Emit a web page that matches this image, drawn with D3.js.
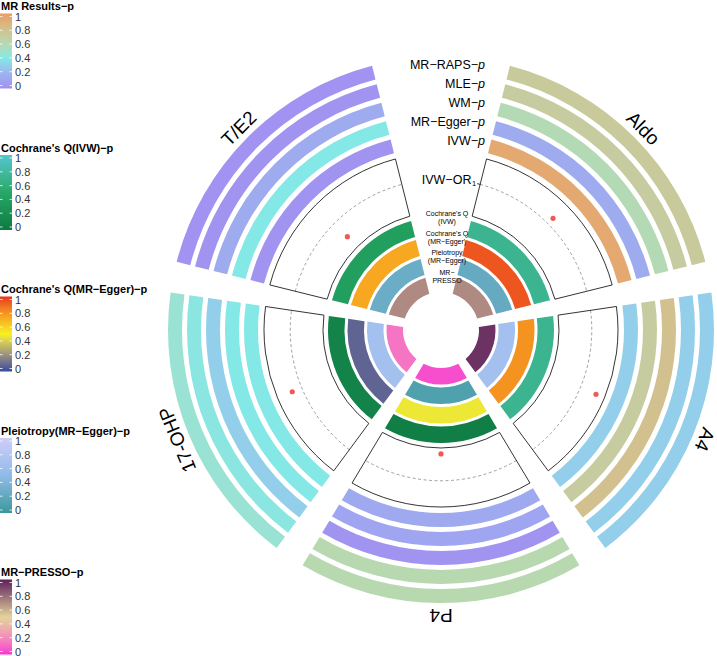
<!DOCTYPE html>
<head>
<meta charset="utf-8">
<style>
body { margin: 0; background: #fff; }
text { font-family: "Liberation Sans", Arial, Helvetica, sans-serif; }
</style>
<title>MR circos</title>
</head>
<body>
<script src="https://cdn.jsdelivr.net/npm/d3@7"></script>
<script>

var width = 717, height = 656;
var cx = 441, cy = 330;
var rad = Math.PI / 180;

// sectors, clockwise from the top gap
var sectors = ["Aldo", "A4", "P4", "17-OHP", "T/E2"];

// MR result p-values, outer ring first
var mrTracks = ["MR−RAPS−p", "MLE−p", "WM−p", "MR−Egger−p", "IVW−p"];
var pRaps  = [0.72, 0.30, 0.60, 0.47, 0.02];
var pMle   = [0.70, 0.30, 0.60, 0.42, 0.03];
var pWm    = [0.58, 0.80, 0.03, 0.30, 0.15];
var pEgger = [0.15, 0.70, 0.12, 0.40, 0.40];
var pIvw   = [0.93, 0.30, 0.14, 0.40, 0.03];

var ivwOR = [1.034, 1.078, 0.877, 1.047, 0.915];

// heterogeneity / pleiotropy tracks, outer first
var qIvwP   = [0.70, 0.70, 0.05, 0.10, 0.40];
var qEggerP = [0.93, 0.78, 0.47, 0.08, 0.72];
var pleioP  = [0.25, 0.65, 0.12, 0.65, 0.28];
var pressoP = [0.70, 0.95, 0.05, 0.15, 0.70];

var legendTitles = ["MR Results−p", "Cochrane's Q(IVW)−p", "Cochrane's Q(MR−Egger)−p",
                    "Pleiotropy(MR−Egger)−p", "MR−PRESSO−p"];
var legendTicks = [0, 0.2, 0.4, 0.6, 0.8, 1];

var innerLabels = [["Cochrane's Q", "(IVW)"], ["Cochrane's Q", "(MR−Egger)"],
                   ["Pleiotropy", "(MR−Egger)"], ["MR−", "PRESSO"]];

function lab(domain, range) {
  return d3.scaleLinear().domain(domain).range(range).interpolate(d3.interpolateLab).clamp(true);
}
var colMR     = lab([0, 0.2, 0.4, 0.6, 0.8, 1], ["#a28ef2", "#9cb4ee", "#84e8e6", "#b8d8b0", "#d2c08e", "#ec9c60"]);
var colQIvw   = lab([0, 0.5, 1], ["#0e7a42", "#27a867", "#52c6cf"]);
var colQEgger = lab([0, 0.5, 1], ["#2f4d9e", "#f7f21f", "#e8301f"]);
var colPleio  = lab([0, 0.5, 1], ["#37989c", "#8fbbe9", "#cfcdf9"]);
var colPresso = lab([0, 0.5, 1], ["#f732d2", "#e2d49a", "#5e1f5c"]);

var svg = d3.select("body").append("svg")
    .attr("width", width)
    .attr("height", height);

// sector angles, clockwise from 12 o'clock, leaving a gap at the top for the track names
var angle = d3.scaleBand()
    .domain(sectors)
    .range([14.1 * rad, 345.9 * rad])
    .paddingInner(0.0815);
function a0(i) { return angle(sectors[i]); }
function a1(i) { return angle(sectors[i]) + angle.bandwidth(); }
function am(i) { return angle(sectors[i]) + angle.bandwidth() / 2; }

var outerR = d3.scaleBand()
    .domain(mrTracks.slice().reverse())
    .range([183, 273])
    .paddingInner(0.263);

var innerR = d3.scaleBand()
    .domain(["presso", "pleio", "qegger", "qivw"])
    .range([38, 113])
    .paddingInner(0.154);

var orR = d3.scaleLinear().domain([0.85, 1.12]).range([118, 177]);

var padLin = 5;
var arc = d3.arc().padRadius(100).padAngle(padLin / 100);

var g = svg.append("g").attr("transform", "translate(" + cx + "," + cy + ")");

function ring(values, r0, r1, color) {
  g.append("g").selectAll("path")
      .data(values)
    .enter().append("path")
      .attr("d", function(d, i) {
        return arc({innerRadius: r0, outerRadius: r1, startAngle: a0(i), endAngle: a1(i)});
      })
      .style("fill", function(d) { return color(d); });
}

var mrValues = [pRaps, pMle, pWm, pEgger, pIvw];
mrTracks.forEach(function(t, k) {
  ring(mrValues[k], outerR(t), outerR(t) + outerR.bandwidth(), colMR);
});

var innerSets = [["qivw", qIvwP, colQIvw], ["qegger", qEggerP, colQEgger],
                 ["pleio", pleioP, colPleio], ["presso", pressoP, colPresso]];
innerSets.forEach(function(s) {
  ring(s[1], innerR(s[0]), innerR(s[0]) + innerR.bandwidth(), s[2]);
});

// IVW-OR box track
var box = g.append("g");
sectors.forEach(function(s, i) {
  var r1 = orR(1);
  var off = (padLin / 2) / r1;
  var p = d3.path();
  p.arc(0, 0, r1, a0(i) + off - Math.PI / 2, a1(i) - off - Math.PI / 2);
  box.append("path")
      .attr("d", p.toString())
      .style("fill", "none")
      .style("stroke", "#888")
      .style("stroke-width", 0.8)
      .style("stroke-dasharray", "3,2.5");
  box.append("path")
      .attr("d", arc({innerRadius: orR.range()[0], outerRadius: orR.range()[1], startAngle: a0(i), endAngle: a1(i)}))
      .style("fill", "none")
      .style("stroke", "#000")
      .style("stroke-width", 0.8);
  var r = orR(ivwOR[i]);
  box.append("circle")
      .attr("cx", r * Math.sin(am(i)))
      .attr("cy", -r * Math.cos(am(i)))
      .attr("r", 2.6)
      .style("fill", "#ee5a5a");
});

// y axis of the OR track at the start of the first sector
var r1 = orR(1);
var ux = Math.sin(a0(0)), uy = -Math.cos(a0(0));
var nx = -uy, ny = ux; // tangential, clockwise
var ex = r1 * ux + nx * (padLin / 2), ey = r1 * uy + ny * (padLin / 2);
box.append("line")
    .attr("x1", ex).attr("y1", ey)
    .attr("x2", ex - nx * 3).attr("y2", ey - ny * 3)
    .style("stroke", "#000").style("stroke-width", 0.8);
box.append("text")
    .attr("x", ex - nx * 4).attr("y", ey - ny * 4)
    .attr("text-anchor", "end")
    .attr("dominant-baseline", "central")
    .style("font-size", "7.5px")
    .text("1");
box.append("text")
    .attr("x", ex - nx * 9).attr("y", ey - ny * 9 - 2)
    .attr("text-anchor", "end")
    .attr("dominant-baseline", "central")
    .style("font-size", "12.5px")
    .text("IVW−OR");

// track names in the top gap
mrTracks.forEach(function(t) {
  var r = outerR(t) + outerR.bandwidth() / 2;
  var parts = t.split("−p");
  var tx = g.append("text")
      .attr("x", 44)
      .attr("y", -r + 1)
      .attr("text-anchor", "end")
      .attr("dominant-baseline", "central")
      .style("font-size", "12.5px");
  tx.append("tspan").text(parts[0] + "−");
  tx.append("tspan").style("font-style", "italic").text("p");
});

["qivw", "qegger", "pleio", "presso"].forEach(function(k, i) {
  var r = innerR(k) + innerR.bandwidth() / 2 + 8;
  var t = g.append("text")
      .attr("text-anchor", "middle")
      .style("font-size", "7px");
  t.append("tspan").attr("x", 6).attr("y", -r - 1).text(innerLabels[i][0]);
  t.append("tspan").attr("x", 6).attr("y", -r + 7).text(innerLabels[i][1]);
});

// sector names
sectors.forEach(function(s, i) {
  var a = am(i), r = 279;
  g.append("text")
      .attr("transform", "translate(" + (r * Math.sin(a)) + "," + (-r * Math.cos(a)) + ")rotate(" + (a / rad) + ")")
      .attr("text-anchor", "middle")
      .style("font-size", "19px")
      .text(s);
});

// legends
var legendScales = [colMR, colQIvw, colQEgger, colPleio, colPresso];
var defs = svg.append("defs");
var tickY = d3.scaleLinear().domain([0, 1]).range([79.5, 10.5]);

legendScales.forEach(function(sc, i) {
  var top = 6 + i * 141.5;
  var grad = defs.append("linearGradient")
      .attr("id", "lg" + i)
      .attr("x1", 0).attr("y1", 1).attr("x2", 0).attr("y2", 0);
  d3.range(0, 1.0001, 0.05).forEach(function(v) {
    grad.append("stop").attr("offset", v).attr("stop-color", sc(v));
  });
  var lg = svg.append("g").attr("transform", "translate(0," + top + ")");
  lg.append("text")
      .attr("x", 1).attr("y", 0)
      .attr("dominant-baseline", "central")
      .style("font-size", "11px")
      .style("font-weight", "bold")
      .text(legendTitles[i]);
  lg.append("rect")
      .attr("x", 0).attr("y", tickY(1) - 3)
      .attr("width", 12).attr("height", tickY(0) - tickY(1) + 6)
      .style("fill", "url(#lg" + i + ")");
  legendTicks.forEach(function(v) {
    lg.append("line").attr("x1", 0).attr("x2", 2.5).attr("y1", tickY(v)).attr("y2", tickY(v))
      .style("stroke", "#fff").style("stroke-width", 0.8);
    lg.append("line").attr("x1", 9.5).attr("x2", 12).attr("y1", tickY(v)).attr("y2", tickY(v))
      .style("stroke", "#fff").style("stroke-width", 0.8);
    lg.append("text")
      .attr("x", 15).attr("y", tickY(v))
      .attr("dominant-baseline", "central")
      .style("font-size", "11px")
      .style("fill", "#333")
      .text(v);
  });
});

</script>
</body>
